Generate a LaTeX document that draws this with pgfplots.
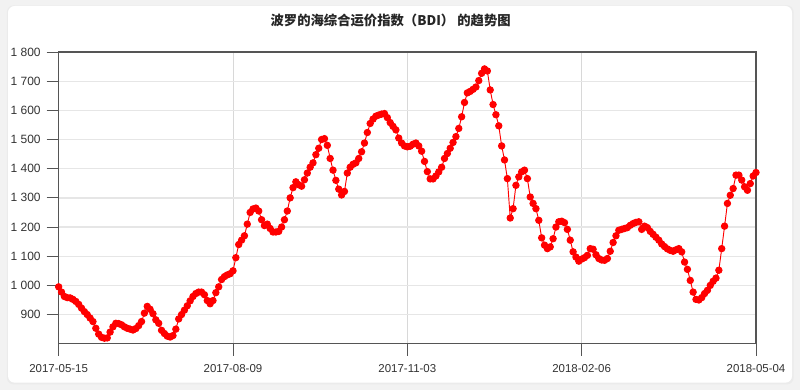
\documentclass[border=0pt]{standalone}
\usepackage{pgfplots}
\pgfplotsset{compat=1.18}
\usepackage{pgfplotstable}
\usepackage{fontspec}
\setmainfont{Liberation Sans}
\newfontfamily\cjk{Noto Sans CJK SC}
\definecolor{bdired}{HTML}{FF0000}
\definecolor{gridh}{HTML}{E6E6E6}
\definecolor{gridv}{HTML}{D8D8D8}
\definecolor{axisc}{HTML}{555555}
\definecolor{txt}{HTML}{333333}
\pgfplotstableread{
i v
0 995
1 977
2 962
3 958
4 957
5 952
6 945
7 935
8 922
9 910
10 900
11 888
12 876
13 853
14 833
15 822
16 819
17 820
18 840
19 858
20 870
21 869
22 865
23 858
24 853
25 850
26 847
27 852
28 862
29 876
30 905
31 928
32 918
33 903
34 882
35 870
36 846
37 835
38 826
39 823
40 828
41 850
42 885
43 900
44 915
45 930
46 947
47 962
48 972
49 977
50 977
51 968
52 948
53 937
54 948
55 975
56 995
57 1020
58 1030
59 1036
60 1040
61 1050
62 1095
63 1140
64 1155
65 1170
66 1210
67 1250
68 1262
69 1265
70 1255
71 1225
72 1205
73 1210
74 1195
75 1183
76 1183
77 1185
78 1200
79 1225
80 1255
81 1300
82 1335
83 1355
84 1345
85 1340
86 1362
87 1385
88 1405
89 1420
90 1448
91 1470
92 1500
93 1503
94 1480
95 1435
96 1395
97 1360
98 1330
99 1310
100 1322
101 1385
102 1405
103 1415
104 1420
105 1435
106 1458
107 1488
108 1524
109 1555
110 1570
111 1580
112 1584
113 1587
114 1589
115 1575
116 1558
117 1545
118 1533
119 1505
120 1488
121 1478
122 1475
123 1477
124 1484
125 1488
126 1478
127 1460
128 1425
129 1390
130 1365
131 1365
132 1375
133 1389
134 1405
135 1435
136 1452
137 1470
138 1490
139 1510
140 1538
141 1578
142 1627
143 1660
144 1665
145 1672
146 1680
147 1702
148 1727
149 1742
150 1735
151 1670
152 1620
153 1585
154 1547
155 1478
156 1430
157 1366
158 1231
159 1263
160 1343
161 1372
162 1389
163 1395
164 1366
165 1303
166 1281
167 1263
168 1223
169 1163
170 1138
171 1126
172 1132
173 1160
174 1200
175 1218
176 1220
177 1215
178 1192
179 1155
180 1115
181 1097
182 1083
183 1090
184 1095
185 1103
186 1126
187 1124
188 1105
189 1092
190 1087
191 1086
192 1092
193 1117
194 1147
195 1170
196 1189
197 1192
198 1195
199 1198
200 1206
201 1212
202 1216
203 1218
204 1192
205 1203
206 1198
207 1185
208 1175
209 1165
210 1155
211 1142
212 1133
213 1125
214 1120
215 1117
216 1122
217 1126
218 1115
219 1080
220 1055
221 1017
222 977
223 952
224 950
225 958
226 972
227 983
228 1000
229 1014
230 1025
231 1052
232 1126
233 1203
234 1281
235 1309
236 1332
237 1378
238 1378
239 1361
240 1338
241 1326
242 1349
243 1375
244 1387
}\bdi
\begin{document}
\begin{tikzpicture}
\fill[black!5] (0,0) rectangle (600pt,292.5pt);
\fill[black!8,rounded corners=5pt] (5.2pt,4.2pt) rectangle (595.2pt,288.5pt);
\fill[white,rounded corners=5pt] (6pt,5.5pt) rectangle (594pt,288pt);
\node[font=\cjk\bfseries\fontsize{10}{12}\selectfont,text=black!85] at (293pt,277.5pt) {波罗的海综合运价指数（BDI） 的趋势图};
\begin{axis}[
  at={(44pt,34.7pt)}, anchor=south west,
  scale only axis, width=523pt, height=218.8pt,
  xmin=0, xmax=244, ymin=800, ymax=1800,
  xtick={0,61,122,183,244},
  xticklabels={2017-05-15,2017-08-09,2017-11-03,2018-02-06,2018-05-04},
  ytick={900,1000,1100,1200,1300,1400,1500,1600,1700,1800},
  yticklabels={900,1~000,1~100,1~200,1~300,1~400,1~500,1~600,1~700,1~800},
  tick align=outside, major tick length=9pt,
  tick style={axisc, line width=0.6pt},
  xtick pos=bottom, ytick pos=left,
  axis line style={axisc, line width=0.8pt},
  xmajorgrids, ymajorgrids,
  x grid style={gridv, line width=0.6pt},
  y grid style={gridh, line width=1pt},
  yticklabel style={font=\fontsize{9}{10}\selectfont, text=txt, xshift=-1pt},
  xticklabel style={font=\fontsize{8.6}{10}\selectfont, text=txt, yshift=-3pt},
  clip=false,
]
\addplot[bdired, line width=0.7pt, mark=*, mark size=2.4pt, mark options={fill=bdired, draw=bdired}] table[x=i, y=v] {\bdi};
\end{axis}
\end{tikzpicture}
\end{document}
